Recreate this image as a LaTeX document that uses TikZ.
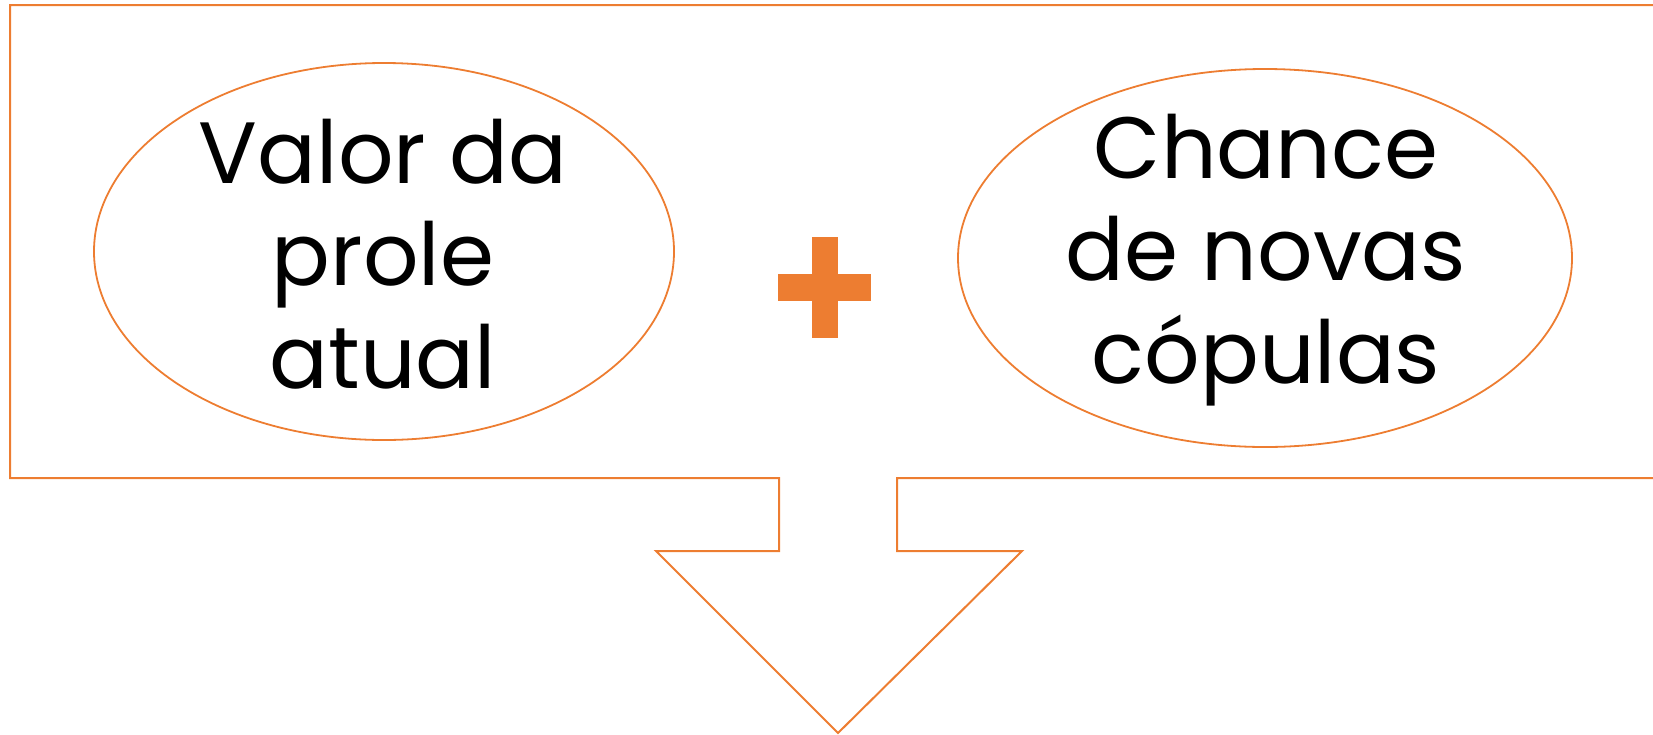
\documentclass[tikz,border=0pt]{standalone}
\usepackage{fontspec}
\setmainfont{Poppins}
\usetikzlibrary{shapes.geometric}
\definecolor{accent}{HTML}{ED7D31}
\tikzset{
  outline/.style={draw=accent, line width=1pt},
  bubble/.style={draw=accent, line width=0.9pt, ellipse, inner sep=0pt},
  bigtext/.style={align=center, inner sep=0pt, font=\fontsize{43.5}{51.25}\selectfont},
}
\begin{document}
\begin{tikzpicture}[x=0.5pt, y=-0.5pt]
\useasboundingbox (0,0) rectangle (1653,734);
% callout frame with down arrow
\draw[outline, line join=miter] (10,5) -- (1720,5) -- (1720,478) -- (897,478) -- (897,551) -- (1022,551)
  -- (838,733) -- (656,551) -- (779,551) -- (779,478) -- (10,478) -- cycle;
% ellipses
\node[bubble, minimum width=290pt, minimum height=188.5pt] (left) at (384,251.5) {};
\node[bubble, minimum width=307pt, minimum height=189pt] (right) at (1265,258) {};
% texts
\node[bigtext] (lefttext) at (383,254) {Valor da\\prole\\atual};
\node[bigtext] (righttext) at (1266,260) {Chance\\de novas\\cópulas};
% plus sign
\fill[accent] (812,237) rectangle (838,338);
\fill[accent] (778,274) rectangle (871,301);
\coordinate (plus) at (825,287);
\end{tikzpicture}
\end{document}
